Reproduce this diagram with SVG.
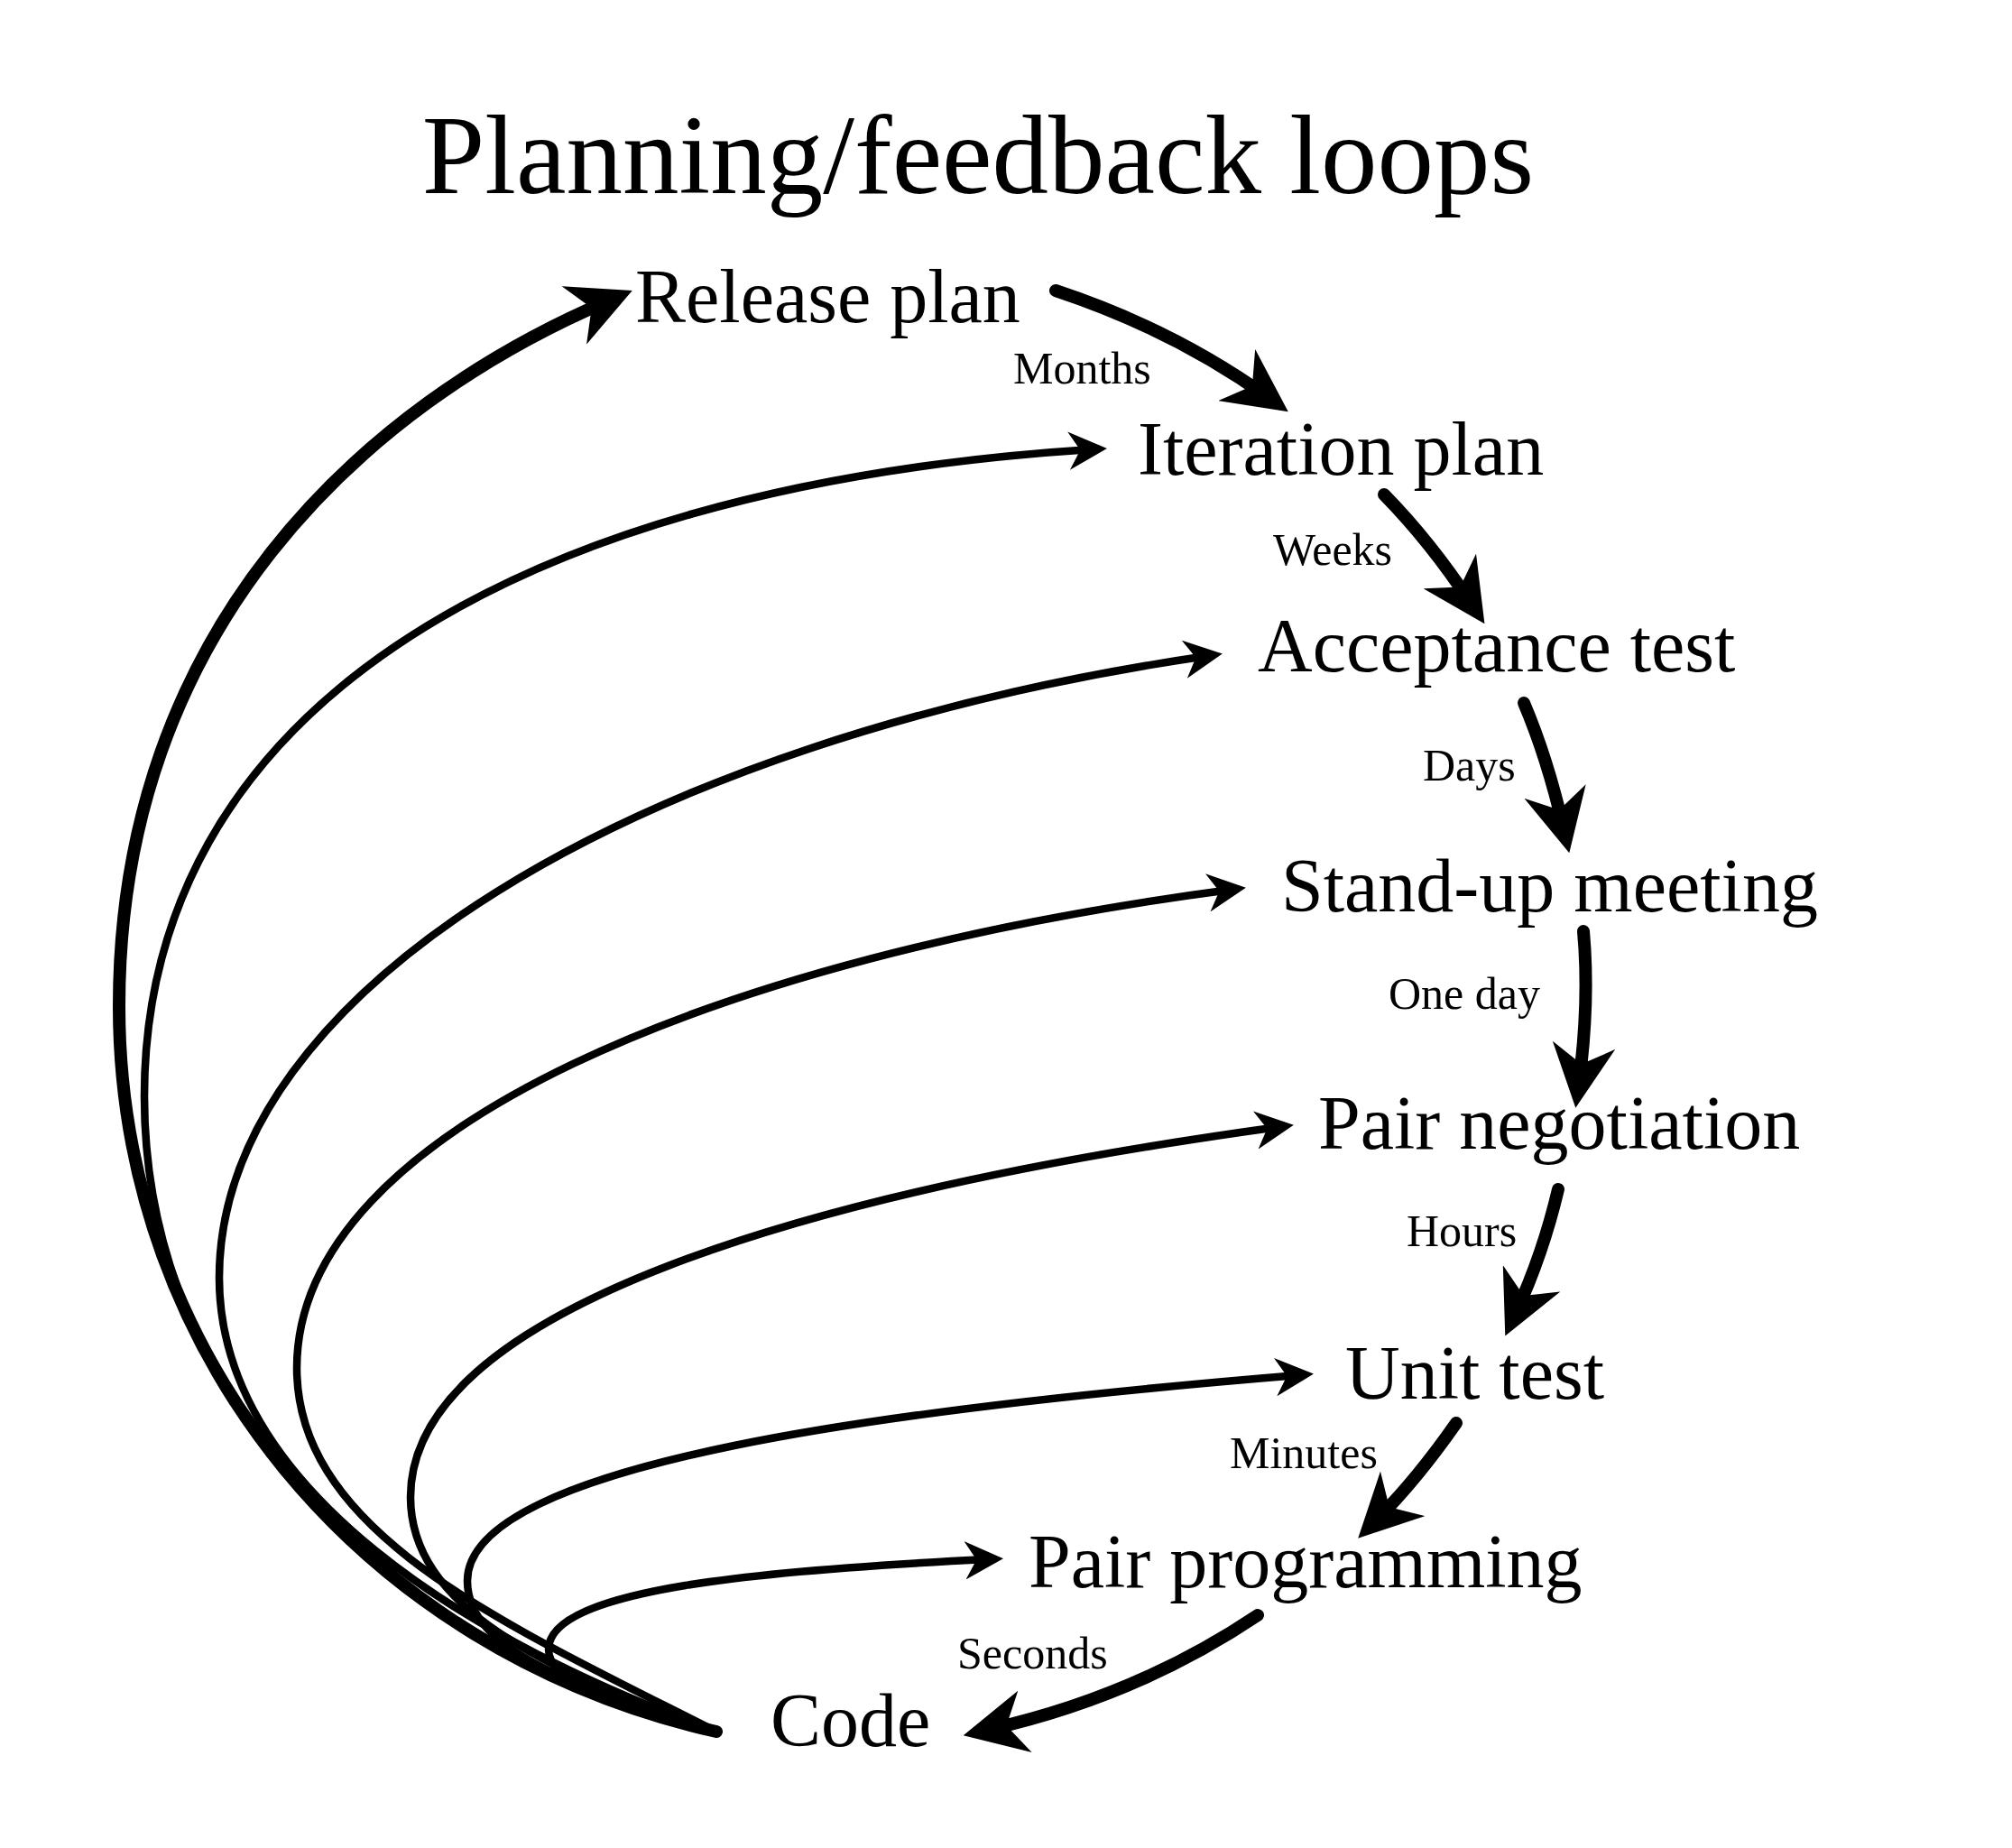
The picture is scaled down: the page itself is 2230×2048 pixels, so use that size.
<svg xmlns="http://www.w3.org/2000/svg" width="2230" height="2048" viewBox="0 0 2230 2048">
<style>
text{font-family:"Liberation Serif","DejaVu Serif",serif;fill:#000}
.n{font-size:84px}.l{font-size:50px}
.thin{fill:none;stroke:#000;stroke-width:8.5;stroke-linecap:round;marker-end:url(#ah)}
.thick{fill:none;stroke:#000;stroke-width:14;stroke-linecap:round;marker-end:url(#ah)}
</style>
<defs>
<marker id="ah" viewBox="0 0 10 10" refX="6" refY="5" markerWidth="5" markerHeight="5" orient="auto" markerUnits="strokeWidth">
<path d="M0,0 L10,5 L0,10 L3,5 z" fill="#000"/>
</marker>
</defs>
<rect width="2230" height="2048" fill="#fff"/>
<text x="1084" y="214" font-size="125" text-anchor="middle">Planning/feedback loops</text>
<g id="connectors">
<path class="thick" d="M1170,322 Q1300,365 1405,440"/>
<path class="thick" d="M1534,548 Q1585,600 1630,668"/>
<path class="thick" d="M1689,779 Q1715,840 1733,918"/>
<path class="thick" d="M1755,1032 Q1762,1110 1750,1200"/>
<path class="thick" d="M1727,1318 Q1710,1390 1680,1455"/>
<path class="thick" d="M1614,1577 Q1570,1640 1525,1685"/>
<path class="thick" d="M1394,1790 Q1260,1880 1095,1917"/>
<path class="thick" d="M794,1919 C400,1830 132,1500 132,1115 C132,700 400,450 675,333"/>
<path class="thin" d="M794,1919 C500,1850 160,1600 160,1215 C160,800 550,540 1210,498"/>
<path class="thin" d="M794,1919 C520,1820 243,1650 243,1416 C243,1100 700,820 1338,727"/>
<path class="thin" d="M794,1919 C560,1800 329,1700 329,1516 C329,1250 800,1060 1364,986"/>
<path class="thin" d="M794,1919 C600,1850 455,1780 455,1659 C455,1450 900,1320 1417,1249"/>
<path class="thin" d="M794,1919 C640,1870 518,1830 518,1752 C518,1620 1000,1560 1439,1524"/>
<path class="thin" d="M794,1919 C700,1890 608,1870 608,1828 C608,1760 850,1740 1095,1728"/>
</g>
<g id="release"><text class="n" x="704" y="357">Release plan</text></g>
<g id="iteration"><text class="n" x="1261" y="526">Iteration plan</text></g>
<g id="acceptance"><text class="n" x="1394" y="744">Acceptance test</text></g>
<g id="standup"><text class="n" x="1420" y="1010">Stand-up meeting</text></g>
<g id="pairneg"><text class="n" x="1461" y="1273">Pair negotiation</text></g>
<g id="unit"><text class="n" x="1491" y="1550">Unit test</text></g>
<g id="pairprog"><text class="n" x="1140" y="1759">Pair programming</text></g>
<g id="code"><text class="n" x="854" y="1935">Code</text></g>
<g id="labels">
<text class="l" x="1123" y="425">Months</text>
<text class="l" x="1411" y="626">Weeks</text>
<text class="l" x="1577" y="865">Days</text>
<text class="l" x="1539" y="1118">One day</text>
<text class="l" x="1559" y="1381">Hours</text>
<text class="l" x="1363" y="1627">Minutes</text>
<text class="l" x="1061" y="1849">Seconds</text>
</g>
</svg>
